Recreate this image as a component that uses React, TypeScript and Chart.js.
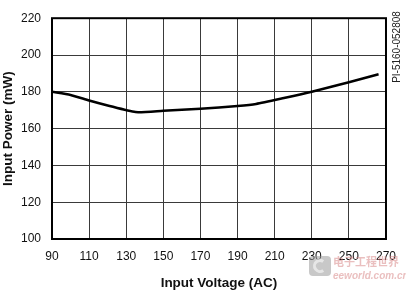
import React, { useEffect, useRef } from "react";
import { Chart, registerables } from "chart.js";

Chart.register(...registerables);

const voltages = [90, 100, 110, 120, 135, 150, 170, 190, 200, 215, 230, 250, 266];
const powers = [180, 178.3, 175.3, 172.6, 169, 169.7, 170.8, 172.3, 173.4, 176.6, 180, 185.2, 189.5];
const xTicks = [90, 110, 130, 150, 170, 190, 210, 230, 250, 270];
const yTicks = [100, 120, 140, 160, 180, 200, 220];
const docId = "PI-5160-052808";

const framePlugin = {
  id: "frame",
  afterDraw(chart: any) {
    const { ctx, chartArea } = chart;
    ctx.save();
    ctx.strokeStyle = "#000";
    ctx.lineWidth = 2;
    ctx.strokeRect(chartArea.left, chartArea.top, chartArea.right - chartArea.left, chartArea.bottom - chartArea.top);
    // document id, rotated
    ctx.translate(397, 47);
    ctx.rotate(-Math.PI / 2);
    ctx.fillStyle = "#222";
    ctx.font = "10px 'Liberation Sans', Arial, sans-serif";
    ctx.textAlign = "center";
    ctx.textBaseline = "middle";
    ctx.fillText(docId, 0, 0);
    ctx.restore();

    // faint watermark
    ctx.save();
    ctx.globalAlpha = 0.55;
    ctx.fillStyle = "#9a9a9a";
    ctx.beginPath();
    ctx.roundRect(309, 256, 22, 20, 4);
    ctx.fill();
    ctx.beginPath();
    ctx.arc(320, 266, 5.5, 0.3 * Math.PI, 1.7 * Math.PI);
    ctx.lineWidth = 3;
    ctx.strokeStyle = "#fff";
    ctx.stroke();
    ctx.fillStyle = "#d98a8a";
    ctx.font = "bold 11px 'Noto Sans CJK SC', sans-serif";
    ctx.textAlign = "left";
    ctx.textBaseline = "middle";
    ctx.fillText("电子工程世界", 333, 262);
    ctx.font = "italic bold 10px 'Liberation Sans', Arial, sans-serif";
    ctx.fillText("eeworld.com.cn", 333, 276);
    ctx.restore();
  },
};

export default function App() {
  const ref = useRef<HTMLCanvasElement | null>(null);
  useEffect(() => {
    if (!ref.current) return;
    const chart = new Chart(ref.current, {
      type: "line",
      data: {
        datasets: [
          {
            data: voltages.map((v, i) => ({ x: v, y: powers[i] })),
            borderColor: "#000",
            borderWidth: 2.5,
            pointRadius: 0,
            tension: 0.2,
            fill: false,
          },
        ],
      },
      options: {
        animation: false,
        responsive: false,
        maintainAspectRatio: false,
        layout: { padding: { top: 16, right: 19, left: 0, bottom: 0 } },
        plugins: { legend: { display: false }, tooltip: { enabled: false } },
        scales: {
          x: {
            type: "linear",
            min: 90,
            max: 270,
            afterFit(scale: any) {
              scale.height = 52;
            },
            afterBuildTicks(scale: any) {
              scale.ticks = xTicks.map((v) => ({ value: v }));
            },
            grid: { color: "#3a3a3a", lineWidth: 1, drawTicks: false },
            border: { display: false },
            ticks: {
              padding: 10,
              color: "#111",
              font: { size: 12, family: "'Liberation Sans', Arial, sans-serif" },
              maxRotation: 0,
              autoSkip: false,
            },
            title: {
              display: true,
              text: "Input Voltage (AC)",
              color: "#111",
              font: { size: 13.5, weight: "bold", family: "'Liberation Sans', Arial, sans-serif" },
              padding: { top: 0, bottom: 0 },
            },
          },
          y: {
            type: "linear",
            min: 100,
            max: 220,
            afterFit(scale: any) {
              scale.width = 52;
            },
            afterBuildTicks(scale: any) {
              scale.ticks = yTicks.map((v) => ({ value: v }));
            },
            grid: { color: "#3a3a3a", lineWidth: 1, drawTicks: false },
            border: { display: false },
            ticks: {
              padding: 11,
              color: "#111",
              font: { size: 12, family: "'Liberation Sans', Arial, sans-serif" },
              autoSkip: false,
            },
            title: {
              display: true,
              text: "Input Power (mW)",
              color: "#111",
              font: { size: 13.5, weight: "bold", family: "'Liberation Sans', Arial, sans-serif" },
              padding: { top: 0, bottom: 0 },
            },
          },
        },
      },
      plugins: [framePlugin],
    });
    return () => chart.destroy();
  }, []);
  return (
    <div style={{ position: "fixed", left: 0, top: 0, width: 406, height: 291, background: "#fff" }}>
      <canvas ref={ref} width={406} height={291} style={{ width: 406, height: 291, display: "block" }} />
    </div>
  );
}
